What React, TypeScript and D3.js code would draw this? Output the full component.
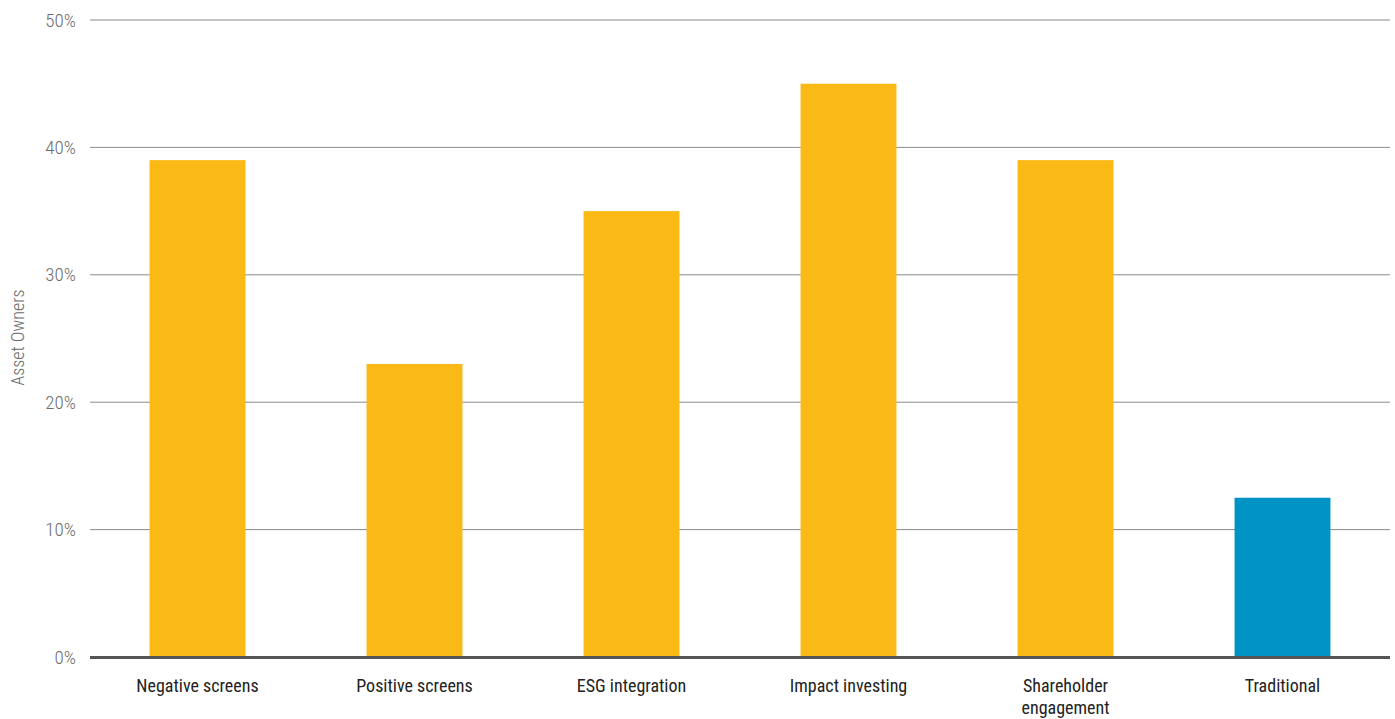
import React from "react";
import * as d3 from "d3";

const categories: string[][] = [
  ["Negative screens"],
  ["Positive screens"],
  ["ESG integration"],
  ["Impact investing"],
  ["Shareholder", "engagement"],
  ["Traditional"],
];
const values: number[] = [39, 23, 35, 45, 39, 12.5];
const barColors: string[] = ["#FBB916", "#FBB916", "#FBB916", "#FBB916", "#FBB916", "#0093C6"];
const yTicks: number[] = [0, 10, 20, 30, 40, 50];
const yTitle = "Asset Owners";

const W = 1395;
const H = 719;
const FONT = "'Roboto Condensed', 'Liberation Sans Narrow', 'DejaVu Sans Condensed', 'Arial Narrow', sans-serif";

export default function App() {
  const x = d3
    .scaleBand<number>()
    .domain(d3.range(categories.length))
    .range([89, 1391])
    .paddingInner(0.558)
    .paddingOuter(0.279);
  const y = d3.scaleLinear().domain([0, 50]).range([657, 20]);

  return (
    <svg
      width={W}
      height={H}
      style={{ position: "absolute", left: 0, top: 0, background: "#fff" }}
      fontFamily={FONT}
    >
      {yTicks.map((t) =>
        t === 0 ? null : (
          <line key={"g" + t} x1={90} x2={1390} y1={y(t)} y2={y(t)} stroke="#8a8a8a" strokeWidth={1} />
        )
      )}
      {yTicks.map((t) => (
        <text
          key={"t" + t}
          x={76}
          y={y(t)}
          dy="0.35em"
          textAnchor="end"
          fontSize={19}
          fontWeight={300}
          fill="#6b6b6b"
        >
          {t}%
        </text>
      ))}
      <text
        transform={`translate(24,${y(25) - 1}) rotate(-90)`}
        textAnchor="middle"
        fontSize={18}
        fontWeight={300}
        fill="#6b6b6b"
      >
        {yTitle}
      </text>
      {values.map((v, i) => (
        <rect
          key={"b" + i}
          x={x(i)!}
          y={y(v)}
          width={x.bandwidth()}
          height={y(0) - y(v)}
          fill={barColors[i]}
        />
      ))}
      <line x1={90} x2={1390} y1={y(0) + 0.5} y2={y(0) + 0.5} stroke="#555" strokeWidth={3} />
      {categories.map((lines, i) => (
        <text
          key={"c" + i}
          x={x(i)! + x.bandwidth() / 2}
          y={692}
          textAnchor="middle"
          fontSize={18}
          fill="#222"
        >
          {lines.map((l, j) => (
            <tspan key={j} x={x(i)! + x.bandwidth() / 2} dy={j === 0 ? 0 : 22}>
              {l}
            </tspan>
          ))}
        </text>
      ))}
    </svg>
  );
}
